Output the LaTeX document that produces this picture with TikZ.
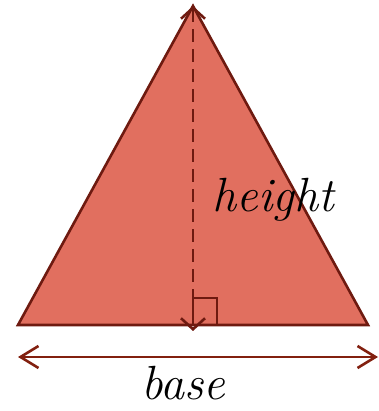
\documentclass[tikz,border=0pt]{standalone}
\usepackage{tikz}
\usepackage{xcolor}
\usetikzlibrary{arrows.meta,positioning,calc}
\definecolor{trifill}{HTML}{E16F5F}
\definecolor{triedge}{HTML}{6E1A10}
\definecolor{measure}{HTML}{82200F}
\tikzset{
  triface/.style={draw=triedge,fill=trifill,line width=2.6pt,line join=miter},
  heightarr/.style={{Straight Barb[length=11pt,width=24pt]}-{Straight Barb[length=11pt,width=24pt]},
                    draw=triedge,line width=2.6pt,dash pattern=on 13pt off 7pt},
  basearr/.style={{Straight Barb[length=18pt,width=22pt]}-{Straight Barb[length=18pt,width=22pt]},
                  draw=measure,line width=2.6pt},
  rightbox/.style={draw=triedge,line width=1.5pt},
  scriptlabel/.style={font=\fontsize{48}{52}\selectfont\itshape,inner sep=0pt}
}
\begin{document}
\begin{tikzpicture}[x=1pt,y=1pt]
    \path[use as bounding box] (0,0) rectangle (378,411);
    % corners of the triangle
    \coordinate (left) at (18,86);
    \coordinate (right) at (368,86);
    \coordinate (apex) at (193,405);
    \coordinate (foot) at (193,86);
    \coordinate (below) at (193,80);
    \draw[triface] (left) -- (right) -- (apex) -- cycle;
    \draw[rightbox] (foot) rectangle ++(24,27);
    \draw[heightarr] (apex) -- (below);
    \node[scriptlabel,anchor=base] (height) at (273,199) {height};
    % the base measure
    \coordinate (bl) at (18,54);
    \coordinate (br) at (378,54);
    \draw[basearr] (bl) -- (br);
    \node[scriptlabel,anchor=base] (base) at (183,11) {base};
  \end{tikzpicture}
\end{document}
